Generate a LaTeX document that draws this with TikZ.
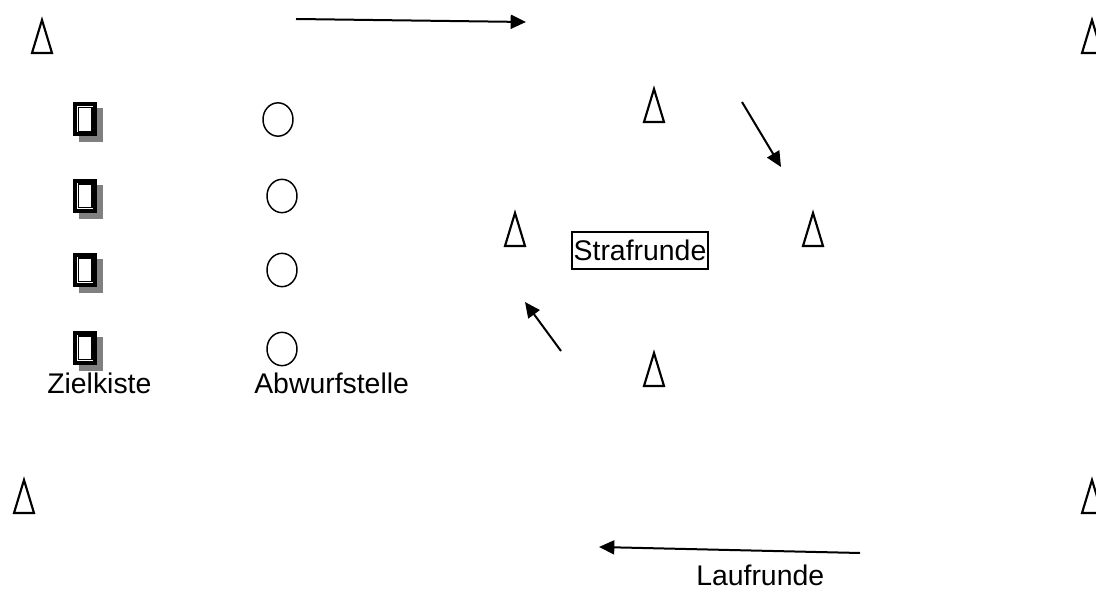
\documentclass[tikz,border=0pt]{standalone}
\usepackage{fontspec}
\setmainfont{Liberation Sans}
\usetikzlibrary{arrows.meta,shapes.geometric}

\tikzset{
  % course marker cone, base centre at the pic origin
  cone/.pic={\draw[line width=1.6pt, line join=miter] (-10,0) -- (0,-33) -- (10,0) -- cycle;},
  % target box with drop shadow and double frame
  zielbox/.pic={
    \fill[black!50] (-6,-11) rectangle (18,23);
    \fill[white] (-12,-17) rectangle (12,17);
    \draw[line width=3pt] (-10,-15) rectangle (10,15);
    \draw[line width=0.9pt] (-6.9,-11.9) rectangle (6.9,11.9);
  },
  throwspot/.style={draw, ellipse, line width=1.1pt, minimum width=22.5pt, minimum height=25pt, inner sep=0pt},
  label/.style={anchor=base west, inner sep=0pt, font=\fontsize{21.3}{25}\selectfont},
  run/.style={line width=1.5pt, -{Triangle[length=11.5pt,width=10.5pt]}},
}

\begin{document}
\begin{tikzpicture}[x=0.75pt, y=-0.75pt]
\useasboundingbox[fill=white] (0,0) rectangle (1096,591);

% corner cones
\pic (tl) at (42,53) {cone};
\pic (tr) at (1092,53) {cone};
\pic (bl) at (24,513) {cone};
\pic (br) at (1092,513) {cone};

% penalty loop cones
\pic (pt) at (654,122) {cone};
\pic (pl) at (515,246) {cone};
\pic (pr) at (813,246) {cone};
\pic (pb) at (654,386) {cone};

% target boxes
\pic (z1) at (85,119.5) {zielbox};
\pic (z2) at (85,196) {zielbox};
\pic (z3) at (85,270) {zielbox};
\pic (z4) at (85,348) {zielbox};

% throwing spots
\node[throwspot] (a1) at (278,119.5) {};
\node[throwspot] (a2) at (282,196) {};
\node[throwspot] (a3) at (282,270) {};
\node[throwspot] (a4) at (282,349) {};

% labels
\node[label] (lz) at (47,394) {Zielkiste};
\node[label] (la) at (254,394) {Abwurfstelle};
\node[label] (ll) at (696,585) {Laufrunde};
\node[draw, line width=1.2pt, inner sep=0pt, minimum width=102pt, minimum height=27.75pt,
      font=\fontsize{21.3}{25}\selectfont] (sr) at (640,250.5) {Strafrunde};

% running direction arrows
\coordinate (r1s) at (296,19);
\coordinate (r1e) at (526,22);
\coordinate (r2s) at (742,102);
\coordinate (r2e) at (781,167);
\coordinate (r3s) at (561,351);
\coordinate (r3e) at (525,302);
\coordinate (r4s) at (860,553);
\coordinate (r4e) at (599,547);
\draw[run] (r1s) -- (r1e);
\draw[run] (r2s) -- (r2e);
\draw[run] (r3s) -- (r3e);
\draw[run] (r4s) -- (r4e);
\end{tikzpicture}
\end{document}
